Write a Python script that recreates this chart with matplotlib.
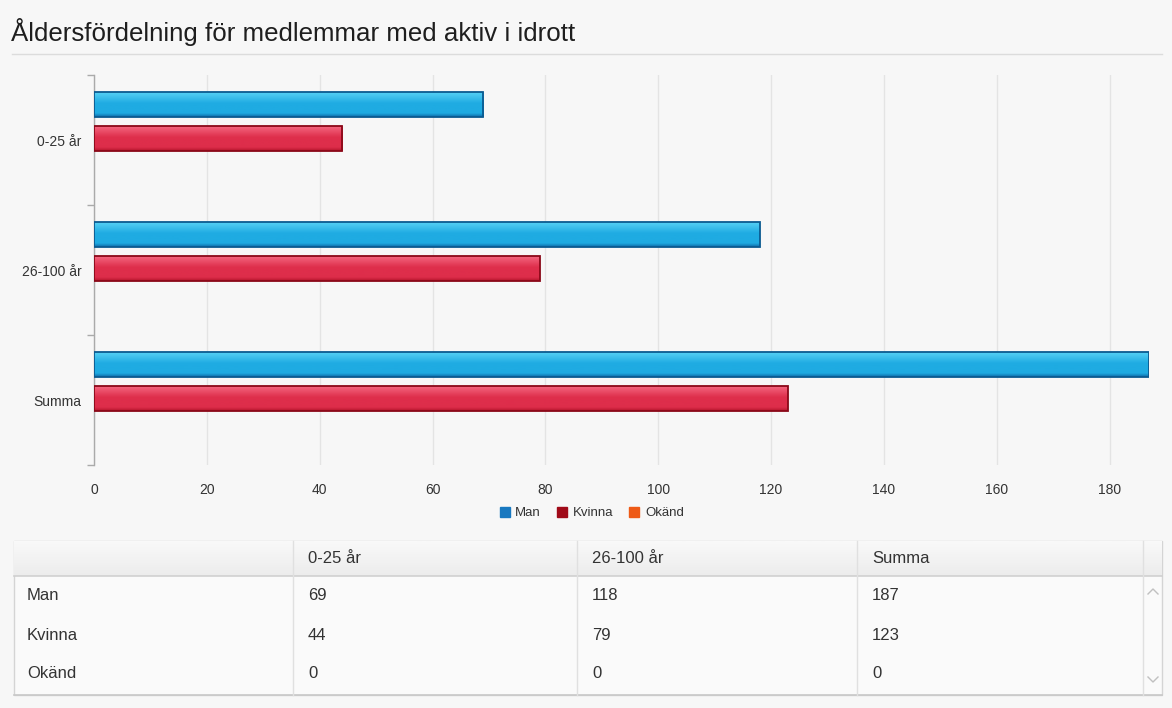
import matplotlib
matplotlib.use("Agg")
import matplotlib.pyplot as plt
import numpy as np
from matplotlib.colors import LinearSegmentedColormap
from matplotlib.patches import Rectangle
from matplotlib.lines import Line2D

# ---- data ----
title = "Åldersfördelning för medlemmar med aktiv i idrott"
categories = ["0-25 år", "26-100 år", "Summa"]
series_names = ["Man", "Kvinna", "Okänd"]
man = [69, 118, 187]
kvinna = [44, 79, 123]
okand = [0, 0, 0]
x_ticks = [0, 20, 40, 60, 80, 100, 120, 140, 160, 180]

plt.rcParams['font.family'] = ['Liberation Sans', 'DejaVu Sans']

W, H = 1172, 708
fig = plt.figure(figsize=(W / 100, H / 100), dpi=100)
fig.patch.set_facecolor('#f7f7f7')

def fx(px):
    return px / W

def fy(py):
    return 1 - py / H

# title and separator
fig.text(fx(11), fy(32), title, fontsize=18.6, color='#1e1e1e', va='center', ha='left')
fig.add_artist(Line2D([fx(12), fx(1162)], [fy(54), fy(54)], color='#dcdcdc', lw=1))

# ---- chart ----
ax_l, ax_r, ax_t, ax_b = 94, 1149, 75, 465
ax = fig.add_axes([fx(ax_l), fy(ax_b), fx(ax_r - ax_l), (ax_b - ax_t) / H])
ax.set_facecolor('none')

series = [man, kvinna, okand]
grads = [
    ('#55d0f5', '#1fabe2', '#0d6aa8', '#0b5a90'),
    ('#f4667f', '#de2e4b', '#b5142c', '#8a0818'),
    ('#ff8a4a', '#ec5e20', '#cc4a10', '#a03000'),
]
bar_h = 0.192
step = 0.2615
ys = np.arange(len(categories))
for i, (vals, (c1, c2, c3, ce)) in enumerate(zip(series, grads)):
    off = (i - 1) * step - 0.012
    cmap = LinearSegmentedColormap.from_list('g%d' % i,
                                             [(0, c1), (0.45, c2), (0.85, c2), (1, c3)])
    for y, v in zip(ys, vals):
        if v <= 0:
            continue
        yc = y + off
        grad = np.linspace(0, 1, 64).reshape(-1, 1)
        ax.imshow(grad, cmap=cmap, aspect='auto',
                  extent=(0, v, yc + bar_h / 2, yc - bar_h / 2),
                  zorder=2.9, interpolation='bicubic')
        ax.add_patch(Rectangle((0, yc - bar_h / 2), v, bar_h, facecolor='none',
                               edgecolor=ce, linewidth=1.3, zorder=3))
ax.set_xlim(0, 187)
ax.set_ylim(2.5, -0.5)

ax.set_xticks(x_ticks)
ax.set_xticklabels([str(t) for t in x_ticks], fontsize=10, color='#333333')
ax.tick_params(axis='x', length=0, pad=13)
ax.grid(axis='x', color='#e4e4e4', lw=1, zorder=0)
ax.set_yticks(ys)
ax.set_yticklabels(categories, fontsize=10, color='#333333')
ax.tick_params(axis='y', length=0, pad=9)
ax.set_yticks([-0.5, 0.5, 1.5, 2.5], minor=True)
ax.tick_params(axis='y', which='minor', length=5, color='#aaaaaa', width=1)
for s in ['top', 'right', 'bottom']:
    ax.spines[s].set_visible(False)
ax.spines['left'].set_color('#aaaaaa')
ax.spines['left'].set_linewidth(1)

# legend
leg_colors = ['#1878c0', '#a00a18', '#ee5a16']
handles = [Line2D([], [], marker='s', linestyle='none', markersize=6.5,
                  markerfacecolor=c, markeredgecolor=c) for c in leg_colors]
fig.legend(handles, series_names, loc='center', bbox_to_anchor=(fx(591), fy(513)),
           ncol=3, frameon=False, fontsize=9.5, handletextpad=0.3,
           columnspacing=1.1, handlelength=1.0, labelcolor='#333333')

# ---- table ----
tab_l, tab_r, tab_t, tab_b = 14, 1162, 541, 695
head_b = 576
col_x = [14, 293, 577, 857, 1143, 1162]
tax = fig.add_axes([0, 0, 1, 1])
tax.set_xlim(0, W)
tax.set_ylim(H, 0)
tax.axis('off')
tax.patch.set_alpha(0)

tax.add_patch(Rectangle((tab_l, tab_t), tab_r - tab_l, tab_b - tab_t,
                        facecolor='#fafafa', edgecolor='#d4d4d4', lw=1, zorder=1))
hg = np.linspace(0, 1, 32).reshape(-1, 1)
hcmap = LinearSegmentedColormap.from_list('h', ['#f9f9f9', '#ececec'])
tax.imshow(hg, cmap=hcmap, aspect='auto', extent=(tab_l, tab_r, head_b, tab_t),
           zorder=1.5)
tax.set_xlim(0, W)
tax.set_ylim(H, 0)
tax.plot([tab_l, tab_r], [head_b, head_b], color='#d0d0d0', lw=1.2, zorder=2)
tax.plot([tab_l, tab_r], [tab_b, tab_b], color='#c8c8c8', lw=1.2, zorder=2)
for cx in col_x[1:-1]:
    tax.plot([cx, cx], [tab_t, tab_b], color='#e0e0e0', lw=1, zorder=2)

for j, c in enumerate(categories):
    tax.text(col_x[j + 1] + 15, (tab_t + head_b) / 2, c, fontsize=12,
             color='#333333', va='center', ha='left', zorder=3)
row_y = [596, 635, 674]
for r, (name, vals) in enumerate(zip(series_names, series)):
    tax.text(col_x[0] + 13, row_y[r], name, fontsize=12, color='#333333',
             va='center', ha='left', zorder=3)
    for j, v in enumerate(vals):
        tax.text(col_x[j + 1] + 15, row_y[r], str(v), fontsize=12,
                 color='#333333', va='center', ha='left', zorder=3)
tax.plot([1148, 1153, 1158], [594, 589, 594], color='#c0c0c0', lw=1, zorder=3)
tax.plot([1148, 1153, 1158], [677, 682, 677], color='#c0c0c0', lw=1, zorder=3)

fig.savefig('out.png', dpi=100, facecolor=fig.get_facecolor())
